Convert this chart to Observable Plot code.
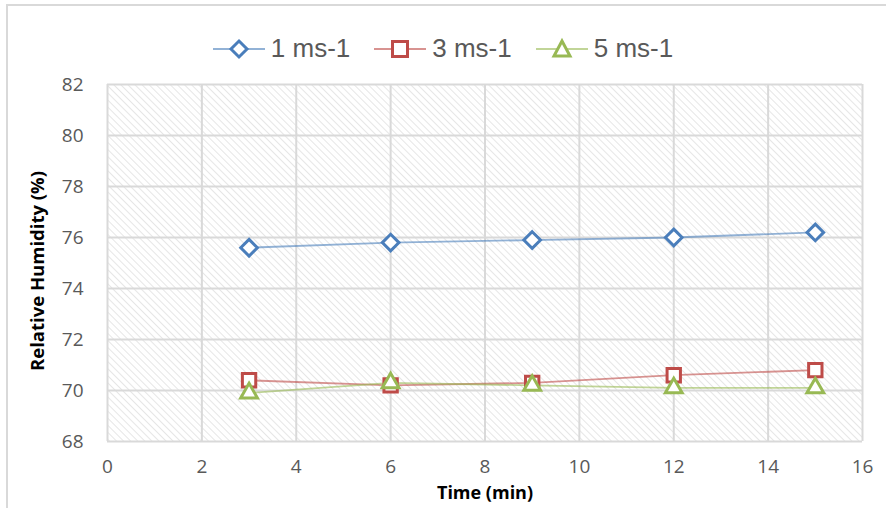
<!DOCTYPE html>
<html>
<head>
<meta charset="utf-8">
<script src="https://cdn.jsdelivr.net/npm/d3@7"></script>
<script src="https://cdn.jsdelivr.net/npm/@observablehq/plot@0.6"></script>
<style>
  html, body { margin: 0; padding: 0; background: #fff; }
  #wrap { position: relative; width: 886px; height: 508px; overflow: hidden; font-family: "Open Sans", "Liberation Sans", sans-serif; }
  #border { position: absolute; left: 6px; top: 4px; width: 900px; height: 600px; border-left: 2px solid #d9d9d9; border-top: 2px solid #d9d9d9; box-sizing: border-box; }
  #legend { position: absolute; top: 33px; left: 0; width: 886px; display: flex; justify-content: center; font-family: "Liberation Sans", sans-serif; font-size: 26px; color: #595959; }
  .item { display: flex; align-items: center; margin: 0 12px; }
  .item svg { margin-right: 6px; }
  #chart { position: absolute; left: 0; top: 0; }
</style>
</head>
<body>
<div id="wrap">
  <div id="border"></div>
  <div id="chart"></div>
  <div id="legend"></div>
</div>
<script>
const times = [3, 6, 9, 12, 15];
const seriesNames = ["1 ms-1", "3 ms-1", "5 ms-1"];
const rh1 = [75.6, 75.8, 75.9, 76.0, 76.2];
const rh3 = [70.4, 70.2, 70.3, 70.6, 70.8];
const rh5 = [69.9, 70.3, 70.2, 70.1, 70.1];
const xTicks = [0, 2, 4, 6, 8, 10, 12, 14, 16];
const yTicks = [68, 70, 72, 74, 76, 78, 80, 82];

const colors = {"1 ms-1": "#4a7ebb", "3 ms-1": "#be4b48", "5 ms-1": "#98b954"};
const symbols = {"1 ms-1": "diamond2", "3 ms-1": "square2", "5 ms-1": "triangle2"};
const radii = {"1 ms-1": 7.5, "3 ms-1": 8.5, "5 ms-1": 8};

const data = [];
[rh1, rh3, rh5].forEach((arr, i) => arr.forEach((v, j) => data.push({series: seriesNames[i], time: times[j], rh: v})));

const plot = Plot.plot({
  width: 886,
  height: 508,
  marginTop: 84,
  marginBottom: 67,
  marginLeft: 107,
  marginRight: 24,
  style: {fontFamily: "'Open Sans', 'Liberation Sans', sans-serif", background: "transparent"},
  x: {domain: [0, 16], ticks: xTicks, label: null},
  y: {domain: [68, 82], ticks: yTicks, label: null},
  marks: [
    Plot.frame({fill: "url(#hatch)", stroke: null}),
    Plot.gridX(xTicks, {stroke: "#d9d9d9", strokeOpacity: 1, strokeWidth: 2}),
    Plot.gridY(yTicks, {stroke: "#d9d9d9", strokeOpacity: 1, strokeWidth: 2}),
    Plot.axisX(xTicks, {tickSize: 0, tickPadding: 18, fontSize: 19, fill: "#595959", stroke: null}),
    Plot.axisY(yTicks, {tickSize: 0, tickPadding: 24, fontSize: 19, fill: "#595959", stroke: null}),
    Plot.text(["Time (min)"], {frameAnchor: "bottom", dy: 57, fontSize: 18, fontWeight: "bold", fill: "#000"}),
    Plot.text(["Relative Humidity (%)"], {frameAnchor: "left", textAnchor: "middle", dx: -69, dy: 8, rotate: -90, fontSize: 18.5, fontWeight: "bold", fill: "#000"}),
    Plot.line(data, {x: "time", y: "rh", z: "series", stroke: d => colors[d.series], strokeOpacity: 0.6, strokeWidth: 1.8}),
    ...seriesNames.map(s => Plot.dot(data.filter(d => d.series === s), {
      x: "time", y: "rh", symbol: symbols[s], r: radii[s], stroke: colors[s], fill: "white", strokeWidth: 3
    }))
  ]
});

// add hatch pattern
const ns = "http://www.w3.org/2000/svg";
const defs = document.createElementNS(ns, "defs");
defs.innerHTML = `<pattern id="hatch" patternUnits="userSpaceOnUse" width="5" height="5" patternTransform="rotate(-45)">
  <rect width="5" height="5" fill="white"/>
  <line x1="0" y1="0" x2="0" y2="5" stroke="#e0e0e0" stroke-width="1.6"/>
</pattern>`;
plot.insertBefore(defs, plot.firstChild);
document.getElementById("chart").appendChild(plot);

// legend
const legend = document.getElementById("legend");
const symbolPaths = {
  "1 ms-1": `<path d="M26,4 L34,12 L26,20 L18,12 Z" fill="white" stroke="${colors["1 ms-1"]}" stroke-width="3"/>`,
  "3 ms-1": `<rect x="18.5" y="4.5" width="15" height="15" fill="white" stroke="${colors["3 ms-1"]}" stroke-width="3"/>`,
  "5 ms-1": `<path d="M26,4 L34,19 L18,19 Z" fill="white" stroke="${colors["5 ms-1"]}" stroke-width="3"/>`
};
seriesNames.forEach(s => {
  const item = document.createElement("div");
  item.className = "item";
  item.innerHTML = `<svg width="52" height="24"><line x1="0" y1="12" x2="52" y2="12" stroke="${colors[s]}" stroke-opacity="0.6" stroke-width="2"/>${symbolPaths[s]}</svg><span>${s}</span>`;
  legend.appendChild(item);
});
</script>
</body>
</html>
